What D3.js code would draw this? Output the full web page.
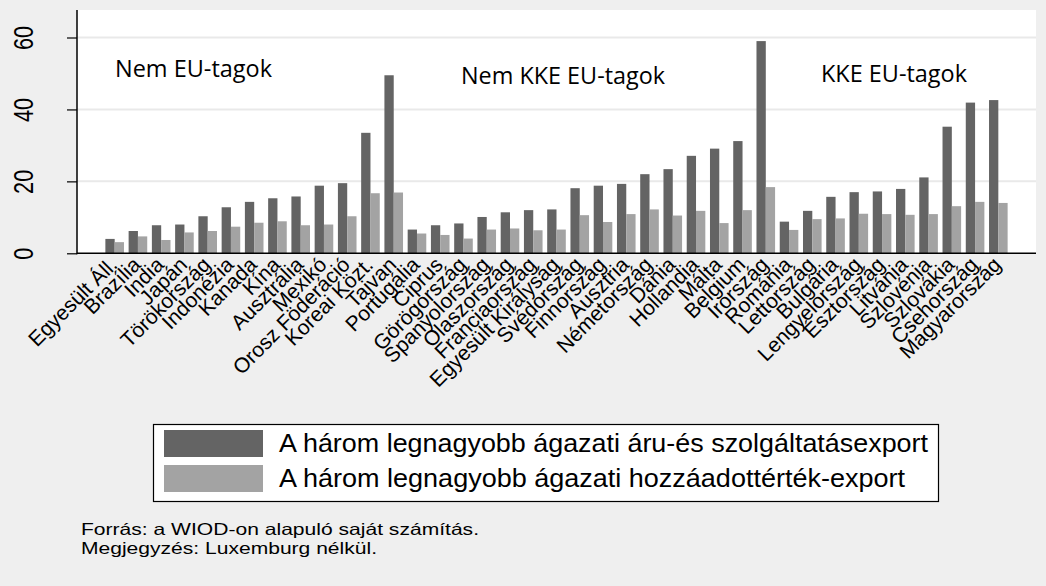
<!DOCTYPE html>
<html>
<head>
<meta charset="utf-8">
<script src="https://cdn.jsdelivr.net/npm/d3@7"></script>
<style>
  body { margin: 0; background: #efefef; }
  svg { display: block; }
</style>
</head>
<body>
<svg width="1046" height="586"></svg>
<script>
// data
var countries = ["Egyesült Áll.", "Brazília", "India", "Japán", "Törökország", "Indonézia", "Kanada", "Kína",
  "Ausztrália", "Mexikó", "Orosz Föderáció", "Koreai Közt.", "Tajvan",
  "Portugália", "Ciprus", "Görögország", "Spanyolország", "Olaszország", "Franciaország", "Egyesült Királyság",
  "Svédország", "Finnország", "Ausztria", "Németország", "Dánia", "Hollandia", "Málta", "Belgium", "Írország",
  "Románia", "Lettország", "Bulgária", "Lengyelország", "Észtország", "Litvánia", "Szlovénia", "Szlovákia",
  "Csehország", "Magyarország"];

// top three sectors, gross export
var grossExport = [4.0, 6.2, 7.8, 8.0, 10.3, 12.8, 14.3, 15.3, 15.8, 18.8, 19.5, 33.5, 49.5,
  6.6, 7.8, 8.3, 10.1, 11.4, 12.0, 12.2, 18.1, 18.8, 19.3, 22.0, 23.4, 27.1, 29.1, 31.2, 59.0,
  8.8, 11.8, 15.7, 17.0, 17.2, 17.9, 21.1, 35.2, 41.9, 42.6];

// top three sectors, value added export
var vaExport = [3.1, 4.7, 3.7, 5.8, 6.2, 7.4, 8.5, 8.9, 7.8, 8.0, 10.3, 16.7, 16.9,
  5.5, 5.1, 4.1, 6.6, 6.9, 6.4, 6.6, 10.6, 8.7, 10.9, 12.2, 10.5, 11.8, 8.4, 12.0, 18.4,
  6.5, 9.5, 9.7, 11.0, 10.9, 10.7, 10.9, 13.1, 14.3, 14.0];

var seriesNames = ["A három legnagyobb ágazati áru-és szolgáltatásexport",
  "A három legnagyobb ágazati hozzáadottérték-export"];
var seriesColors = ["#646464", "#a3a3a3"];

var groupLabels = ["Nem EU-tagok", "Nem KKE EU-tagok", "KKE EU-tagok"];
var yTicks = [0, 20, 40, 60];

var notes = ["Forrás: a WIOD-on alapuló saját számítás.", "Megjegyzés: Luxemburg nélkül."];

var svg = d3.select("svg");
var plot = {left: 77, right: 1036, top: 10, bottom: 253.3};

svg.append("rect").attr("width", 1046).attr("height", 586).attr("fill", "#efefef");
svg.append("rect")
  .attr("x", plot.left).attr("y", plot.top)
  .attr("width", plot.right - plot.left).attr("height", plot.bottom - plot.top)
  .attr("fill", "#ffffff");

var y = d3.scaleLinear().domain([0, 60]).range([plot.bottom, 37.5]);

var x = d3.scaleBand().domain(countries)
  .range([plot.left, plot.right])
  .paddingInner(0.2).paddingOuter(1.22);

var xSub = d3.scaleBand().domain([0, 1]).range([0, x.bandwidth()]);

// grid
svg.append("g").selectAll("line")
  .data(yTicks.filter(function(d) { return d > 0; }))
  .enter().append("line")
  .attr("x1", plot.left).attr("x2", plot.right)
  .attr("y1", function(d) { return y(d); }).attr("y2", function(d) { return y(d); })
  .attr("stroke", "#e9e9e9").attr("stroke-width", 2);

// bars
var rows = countries.map(function(c, i) { return {name: c, vals: [grossExport[i], vaExport[i]]}; });

var groups = svg.append("g").selectAll("g")
  .data(rows).enter().append("g")
  .attr("transform", function(d) { return "translate(" + x(d.name) + ",0)"; });

groups.selectAll("rect")
  .data(function(d) { return d.vals.map(function(v, k) { return {k: k, v: v}; }); })
  .enter().append("rect")
  .attr("x", function(d) { return xSub(d.k); })
  .attr("width", xSub.bandwidth())
  .attr("y", function(d) { return y(d.v); })
  .attr("height", function(d) { return plot.bottom - y(d.v); })
  .attr("fill", function(d) { return seriesColors[d.k]; });

// y axis
var yAxis = svg.append("g")
  .attr("transform", "translate(" + plot.left + ",0)")
  .call(d3.axisLeft(y).tickValues(yTicks).tickSize(10).tickPadding(0));
yAxis.select(".domain").remove();
yAxis.selectAll(".tick line").attr("stroke", "#000").attr("stroke-width", 1.2);
yAxis.selectAll(".tick text")
  .attr("font-family", "Liberation Sans, Arial, sans-serif")
  .attr("font-size", 27)
  .attr("fill", "#000")
  .attr("text-anchor", "middle")
  .attr("dy", 0)
  .attr("x", 0).attr("y", 0)
  .attr("transform", "translate(-44,0) rotate(-90) scale(0.8,1)");

svg.append("line")
  .attr("x1", plot.left).attr("x2", plot.left)
  .attr("y1", plot.top).attr("y2", plot.bottom + 1)
  .attr("stroke", "#000").attr("stroke-width", 1.5);
svg.append("line")
  .attr("x1", plot.left).attr("x2", plot.right)
  .attr("y1", plot.bottom).attr("y2", plot.bottom)
  .attr("stroke", "#000").attr("stroke-width", 1.5);

// x labels
svg.append("g").selectAll("text")
  .data(countries).enter().append("text")
  .attr("transform", function(d) {
    return "translate(" + (x(d) + x.bandwidth() / 2 + 4) + ",266) rotate(-45)";
  })
  .attr("text-anchor", "end")
  .attr("font-family", "Liberation Sans, Arial, sans-serif")
  .attr("font-size", 21)
  .attr("fill", "#000")
  .text(function(d) { return d; });

// group annotations
var groupPos = [[115, 77, 157], [461, 84, 204], [821, 82, 146]];
svg.append("g").selectAll("text")
  .data(groupLabels).enter().append("text")
  .attr("x", function(d, i) { return groupPos[i][0]; })
  .attr("y", function(d, i) { return groupPos[i][1]; })
  .attr("textLength", function(d, i) { return groupPos[i][2]; })
  .attr("lengthAdjust", "spacingAndGlyphs")
  .attr("font-family", "Open Sans, sans-serif")
  .attr("font-size", 24)
  .attr("fill", "#000")
  .text(function(d) { return d; });

// legend
var legend = svg.append("g");
legend.append("rect")
  .attr("x", 153.5).attr("y", 424.5).attr("width", 785).attr("height", 77)
  .attr("fill", "#ffffff").attr("stroke", "#000").attr("stroke-width", 1.2);
var legendLen = [649, 626];
seriesNames.forEach(function(name, i) {
  legend.append("rect")
    .attr("x", 164).attr("y", 430 + i * 35).attr("width", 99).attr("height", 27)
    .attr("fill", seriesColors[i]);
  legend.append("text")
    .attr("x", 279).attr("y", 452 + i * 35)
    .attr("textLength", legendLen[i])
    .attr("lengthAdjust", "spacingAndGlyphs")
    .attr("font-family", "Liberation Sans, Arial, sans-serif")
    .attr("font-size", 26)
    .attr("fill", "#000")
    .text(name);
});

// notes
var noteLen = [398, 296];
svg.append("g").selectAll("text")
  .data(notes).enter().append("text")
  .attr("x", 81)
  .attr("y", function(d, i) { return 535 + i * 19; })
  .attr("textLength", function(d, i) { return noteLen[i]; })
  .attr("lengthAdjust", "spacingAndGlyphs")
  .attr("font-family", "Liberation Sans, Arial, sans-serif")
  .attr("font-size", 16.5)
  .attr("fill", "#000")
  .text(function(d) { return d; });
</script>
</body>
</html>
